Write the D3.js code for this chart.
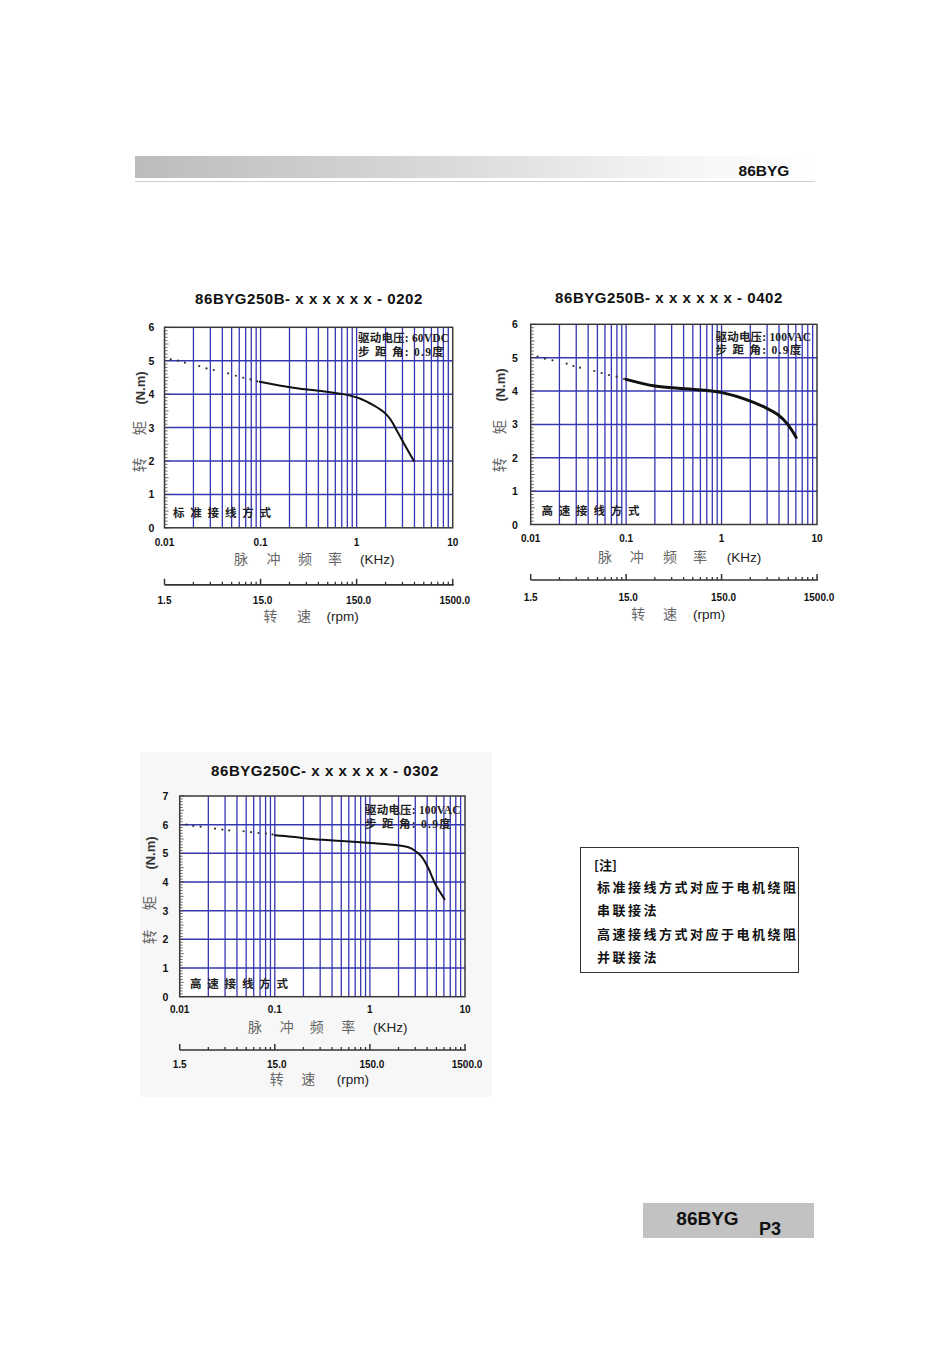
<!DOCTYPE html>
<html><head><meta charset="utf-8">
<script src="https://cdn.jsdelivr.net/npm/d3@7"></script>
<style>body{margin:0;background:#fff}</style>
</head><body>
<script>
// ---------- data ----------
const freqTicks = [0.01, 0.1, 1, 10];
const freqTickLabels = ["0.01", "0.1", "1", "10"];
const rpmTicks = [1.5, 15, 150, 1500];
const rpmTickLabels = ["1.5", "15.0", "150.0", "1500.0"];

const chartTitles = ["86BYG250B- x x x x x x - 0202", "86BYG250B- x x x x x x - 0402", "86BYG250C- x x x x x x - 0302"];
const voltageLabels = ["驱动电压: 60VDC", "驱动电压: 100VAC", "驱动电压: 100VAC"];
const stepLabels = ["步 距 角: 0.9度", "步 距 角: 0.9度", "步 距 角: 0.9度"];
const wiringLabels = ["标 准 接 线 方 式", "高 速 接 线 方 式", "高 速 接 线 方 式"];
const torqueMax = [6, 6, 7];

// chart 1 (0202)
const c1DotFreq = [0.0116, 0.0139, 0.0163, 0.0230, 0.0274, 0.0326, 0.0460, 0.0553, 0.0661, 0.0786, 0.0922];
const c1DotTorque = [5.04, 5.0, 4.94, 4.84, 4.77, 4.72, 4.62, 4.55, 4.49, 4.44, 4.38];
const c1Freq = [0.098, 0.219, 0.487, 0.726, 1.08, 1.49, 1.90, 2.22, 2.61, 3.18, 3.95];
const c1Torque = [4.37, 4.19, 4.07, 4.0, 3.87, 3.67, 3.47, 3.27, 2.92, 2.47, 2.0];
// chart 2 (0402)
const c2DotFreq = [0.0118, 0.0141, 0.0169, 0.0238, 0.0280, 0.0329, 0.0464, 0.0554, 0.0661, 0.0795, 0.0950];
const c2DotTorque = [5.03, 4.97, 4.92, 4.82, 4.75, 4.70, 4.60, 4.54, 4.48, 4.43, 4.36];
const c2Freq = [0.1, 0.201, 0.414, 0.788, 1.09, 1.76, 2.85, 3.94, 5.0, 6.05];
const c2Torque = [4.35, 4.15, 4.07, 4.0, 3.93, 3.76, 3.51, 3.28, 2.98, 2.61];
// chart 3 (0302)
const c3DotFreq = [0.0118, 0.0139, 0.0166, 0.0235, 0.0281, 0.0332, 0.0470, 0.0563, 0.0674, 0.0806, 0.0947];
const c3DotTorque = [6.0, 5.95, 5.93, 5.86, 5.83, 5.80, 5.77, 5.74, 5.71, 5.69, 5.66];
const c3Freq = [0.1, 0.151, 0.225, 0.505, 1.13, 1.84, 2.54, 2.98, 3.51, 4.12, 4.84, 6.1];
const c3Torque = [5.63, 5.58, 5.51, 5.43, 5.35, 5.29, 5.21, 5.09, 4.88, 4.48, 3.95, 3.4];

const noteLines = ["[注]", "标准接线方式对应于电机绕阻", "串联接法", "高速接线方式对应于电机绕阻", "并联接法"];
const headerText = "86BYG";
const footerText = "86BYG";
const pageText = "P3";

// ---------- drawing ----------
const W = 950, H = 1345;
const svg = d3.select("body").append("svg").attr("width", W).attr("height", H)
  .style("display", "block");

const SANS = "'Liberation Sans', Arial, sans-serif";
const CJK = "'Noto Sans CJK SC', sans-serif";
const SERIF = "'Liberation Serif', 'Noto Sans CJK SC', serif";
const GRID = "#3636b2";

// header
const defs = svg.append("defs");
const grad = defs.append("linearGradient").attr("id", "hdr").attr("x1", "0").attr("x2", "1");
grad.append("stop").attr("offset", "0").attr("stop-color", "#bcbcbc");
grad.append("stop").attr("offset", "0.45").attr("stop-color", "#d9d9d9");
grad.append("stop").attr("offset", "0.8").attr("stop-color", "#f5f5f5");
grad.append("stop").attr("offset", "1").attr("stop-color", "#ffffff");
svg.append("rect").attr("x", 135).attr("y", 156).attr("width", 680).attr("height", 22).attr("fill", "url(#hdr)");
svg.append("line").attr("x1", 135).attr("x2", 815).attr("y1", 181.5).attr("y2", 181.5)
  .attr("stroke", "#cfcfcf").attr("stroke-width", 1.2);
svg.append("text").attr("x", 764).attr("y", 176).attr("text-anchor", "middle")
  .attr("font-family", SANS).attr("font-weight", "bold").attr("font-size", 15.5).attr("fill", "#111").text(headerText);

// chart 3 background panel
svg.append("rect").attr("x", 140).attr("y", 752).attr("width", 352).attr("height", 345).attr("fill", "#f7f7f7");

const charts = [
  { x0: 164.5, x1: 452.7, yb: 527.8, yt: 327.3, titleX: 309, titleY: 304,
    yTickX: 151.5, yTitleX: 140, yTitleY: [465, 428, 388],
    annX: 358, annY: [342, 355.5], wireX: 173, wireY: 517,
    tickDy: 18.5, xlabDy: 36.5, rpmDy: 57, rpmLabDy: 76, rpmTitleDy: 93.5,
    xlabOff: [76.5, 109, 140.5, 170.5, 195.5], rpmOff: [106, 139.5, 162],
    dotF: c1DotFreq, dotT: c1DotTorque, f: c1Freq, t: c1Torque, lw: 2 },
  { x0: 530.7, x1: 817, yb: 524.5, yt: 324.3, titleX: 669, titleY: 302.5,
    yTickX: 515, yTitleX: 500, yTitleY: [465, 427, 385],
    annX: 715.5, annY: [340.5, 354], wireX: 541.5, wireY: 515,
    tickDy: 17, xlabDy: 37, rpmDy: 55.5, rpmLabDy: 76, rpmTitleDy: 94,
    xlabOff: [74.3, 106, 139.3, 169.3, 196], rpmOff: [107.6, 139.3, 162.3],
    dotF: c2DotFreq, dotT: c2DotTorque, f: c2Freq, t: c2Torque, lw: 3 },
  { x0: 179.7, x1: 465, yb: 996.7, yt: 796, titleX: 325, titleY: 775.5,
    yTickX: 165.5, yTitleX: 150, yTitleY: [937, 903, 853],
    annX: 365, annY: [814, 827.5], wireX: 190, wireY: 987.5,
    tickDy: 16.5, xlabDy: 35, rpmDy: 53.3, rpmLabDy: 71, rpmTitleDy: 87,
    xlabOff: [75.3, 107, 137, 168.6, 193.3], rpmOff: [97, 128.6, 157],
    dotF: c3DotFreq, dotT: c3DotTorque, f: c3Freq, t: c3Torque, lw: 2 }
];

charts.forEach((c, i) => {
  const g = svg.append("g");
  const ymax = torqueMax[i];
  const x = d3.scaleLog().domain([0.01, 10]).range([c.x0, c.x1]);
  const y = d3.scaleLinear().domain([0, ymax]).range([c.yb, c.yt]);
  const rpm = d3.scaleLog().domain([1.5, 1500]).range([c.x0, c.x1]);

  // title
  g.append("text").attr("x", c.titleX).attr("y", c.titleY).attr("text-anchor", "middle")
    .attr("font-family", SANS).attr("font-weight", "bold").attr("font-size", 15)
    .attr("letter-spacing", 0.55).attr("fill", "#111").text(chartTitles[i]);

  // plot bg
  g.append("rect").attr("x", c.x0).attr("y", c.yt).attr("width", c.x1 - c.x0).attr("height", c.yb - c.yt).attr("fill", "#fff");

  // vertical grid
  const vgrid = [];
  [0.01, 0.1, 1].forEach(d => { for (let k = 2; k <= 10; k++) { const v = d * k; if (v < 10) vgrid.push(v); } });
  g.selectAll(".vg").data(vgrid).enter().append("line")
    .attr("x1", d => x(d)).attr("x2", d => x(d)).attr("y1", c.yt).attr("y2", c.yb)
    .attr("stroke", GRID).attr("stroke-width", 1.3);
  // horizontal grid
  g.selectAll(".hg").data(d3.range(1, ymax)).enter().append("line")
    .attr("x1", c.x0).attr("x2", c.x1).attr("y1", d => y(d)).attr("y2", d => y(d))
    .attr("stroke", GRID).attr("stroke-width", 1.5);

  // minor y ticks
  g.selectAll(".yt").data(d3.range(0, ymax * 10 + 1)).enter().append("line")
    .attr("x1", c.x0).attr("x2", d => c.x0 + (d % 10 === 0 ? 5 : (d % 5 === 0 ? 4 : 3)))
    .attr("y1", d => y(d / 10)).attr("y2", d => y(d / 10))
    .attr("stroke", "#444").attr("stroke-width", 0.8);

  // border
  g.append("rect").attr("x", c.x0).attr("y", c.yt).attr("width", c.x1 - c.x0).attr("height", c.yb - c.yt)
    .attr("fill", "none").attr("stroke", "#3a3a3a").attr("stroke-width", 1.5);

  // y tick labels
  g.selectAll(".yl").data(d3.range(0, ymax + 1)).enter().append("text")
    .attr("x", c.yTickX).attr("y", d => y(d) + 4).attr("text-anchor", "middle")
    .attr("font-family", SANS).attr("font-weight", "bold").attr("font-size", 10.5).attr("fill", "#111")
    .text(d => d);

  // y title (rotated)
  const yTitleParts = ["转", "矩", "(N.m)"];
  yTitleParts.forEach((s, k) => {
    g.append("text").attr("transform", `translate(${c.yTitleX},${c.yTitleY[k]}) rotate(-90)`)
      .attr("text-anchor", "middle").attr("dy", "0.35em")
      .attr("font-family", k === 2 ? SANS : CJK).attr("font-size", k === 2 ? 13 : 14.5)
      .attr("font-weight", k === 2 ? "bold" : "normal")
      .attr("fill", k === 2 ? "#333" : "#666").text(s);
  });

  // x tick labels
  g.selectAll(".xl").data(freqTicks).enter().append("text")
    .attr("x", d => x(d)).attr("y", c.yb + c.tickDy).attr("text-anchor", "middle")
    .attr("font-family", SANS).attr("font-weight", "bold").attr("font-size", 10).attr("fill", "#111")
    .text((d, k) => freqTickLabels[k]);

  // x title
  ["脉", "冲", "频", "率"].forEach((s, k) => {
    g.append("text").attr("x", c.x0 + c.xlabOff[k]).attr("y", c.yb + c.xlabDy).attr("text-anchor", "middle")
      .attr("font-family", CJK).attr("font-size", 14).attr("fill", "#666").text(s);
  });
  g.append("text").attr("x", c.x0 + c.xlabOff[4]).attr("y", c.yb + c.xlabDy)
    .attr("font-family", SANS).attr("font-size", 13.5).attr("fill", "#222").text("(KHz)");

  // rpm axis
  const ry = c.yb + c.rpmDy;
  g.append("line").attr("x1", c.x0).attr("x2", c.x1 + 1).attr("y1", ry).attr("y2", ry)
    .attr("stroke", "#333").attr("stroke-width", 1.7);
  const rpmMinor = [];
  [1.5, 15, 150].forEach(d => { for (let k = 2; k <= 9; k++) rpmMinor.push(d * k); });
  g.selectAll(".rm").data(rpmMinor).enter().append("line")
    .attr("x1", d => rpm(d)).attr("x2", d => rpm(d)).attr("y1", ry).attr("y2", ry - 3)
    .attr("stroke", "#333").attr("stroke-width", 1.3);
  g.selectAll(".rM").data(rpmTicks).enter().append("line")
    .attr("x1", d => rpm(d)).attr("x2", d => rpm(d)).attr("y1", ry).attr("y2", ry - 6)
    .attr("stroke", "#333").attr("stroke-width", 1.5);
  g.selectAll(".rl").data(rpmTicks).enter().append("text")
    .attr("x", (d, k) => rpm(d) + (k === 0 ? 0 : 2)).attr("y", c.yb + c.rpmLabDy).attr("text-anchor", "middle")
    .attr("font-family", SANS).attr("font-weight", "bold").attr("font-size", 10).attr("fill", "#111")
    .text((d, k) => rpmTickLabels[k]);
  ["转", "速"].forEach((s, k) => {
    g.append("text").attr("x", c.x0 + c.rpmOff[k]).attr("y", c.yb + c.rpmTitleDy).attr("text-anchor", "middle")
      .attr("font-family", CJK).attr("font-size", 14).attr("fill", "#666").text(s);
  });
  g.append("text").attr("x", c.x0 + c.rpmOff[2]).attr("y", c.yb + c.rpmTitleDy)
    .attr("font-family", SANS).attr("font-size", 13.5).attr("fill", "#222").text("(rpm)");

  // annotations
  g.append("text").attr("x", c.annX).attr("y", c.annY[0]).attr("font-family", SERIF).attr("font-size", 11.5)
    .attr("font-weight", "bold").attr("fill", "#222").attr("letter-spacing", 0.2).text(voltageLabels[i]);
  g.append("text").attr("x", c.annX).attr("y", c.annY[1]).attr("font-family", SERIF).attr("font-size", 11.5)
    .attr("font-weight", "bold").attr("fill", "#222").attr("letter-spacing", 1.3).text(stepLabels[i]);
  g.append("text").attr("x", c.wireX).attr("y", c.wireY).attr("font-family", CJK).attr("font-size", 11.5)
    .attr("font-weight", "bold").attr("letter-spacing", 1.6).attr("fill", "#222").text(wiringLabels[i]);

  // dotted part
  g.selectAll(".dot").data(c.dotF).enter().append("circle")
    .attr("cx", d => x(d)).attr("cy", (d, k) => y(c.dotT[k])).attr("r", 1.1)
    .attr("fill", "#333");
  // solid curve
  const pts = c.f.map((d, k) => [d, c.t[k]]);
  const line = d3.line().x(d => x(d[0])).y(d => y(d[1])).curve(d3.curveCatmullRom.alpha(0.5));
  g.append("path").attr("d", line(pts)).attr("fill", "none").attr("stroke", "#111")
    .attr("stroke-width", c.lw).attr("stroke-linecap", "round");
});

// note box
svg.append("rect").attr("x", 580.5).attr("y", 847.5).attr("width", 218).attr("height", 125)
  .attr("fill", "#fff").attr("stroke", "#333").attr("stroke-width", 1);
const noteY = [870, 891.5, 915, 939, 962];
noteLines.forEach((s, k) => {
  svg.append("text").attr("x", k === 0 ? 594 : 597).attr("y", noteY[k])
    .attr("font-family", CJK).attr("font-weight", "bold").attr("font-size", 13)
    .attr("letter-spacing", k === 0 ? 0 : 2.5).attr("fill", "#111").text(s);
});

// footer
svg.append("rect").attr("x", 643).attr("y", 1203).attr("width", 171).attr("height", 35).attr("fill", "#c2c2c2");
svg.append("text").attr("x", 707.5).attr("y", 1224.5).attr("text-anchor", "middle")
  .attr("font-family", SANS).attr("font-weight", "bold").attr("font-size", 19).attr("fill", "#111").text(footerText);
svg.append("text").attr("x", 770).attr("y", 1234.5).attr("text-anchor", "middle")
  .attr("font-family", SANS).attr("font-weight", "bold").attr("font-size", 18).attr("fill", "#111").text(pageText);
</script>
</body></html>
